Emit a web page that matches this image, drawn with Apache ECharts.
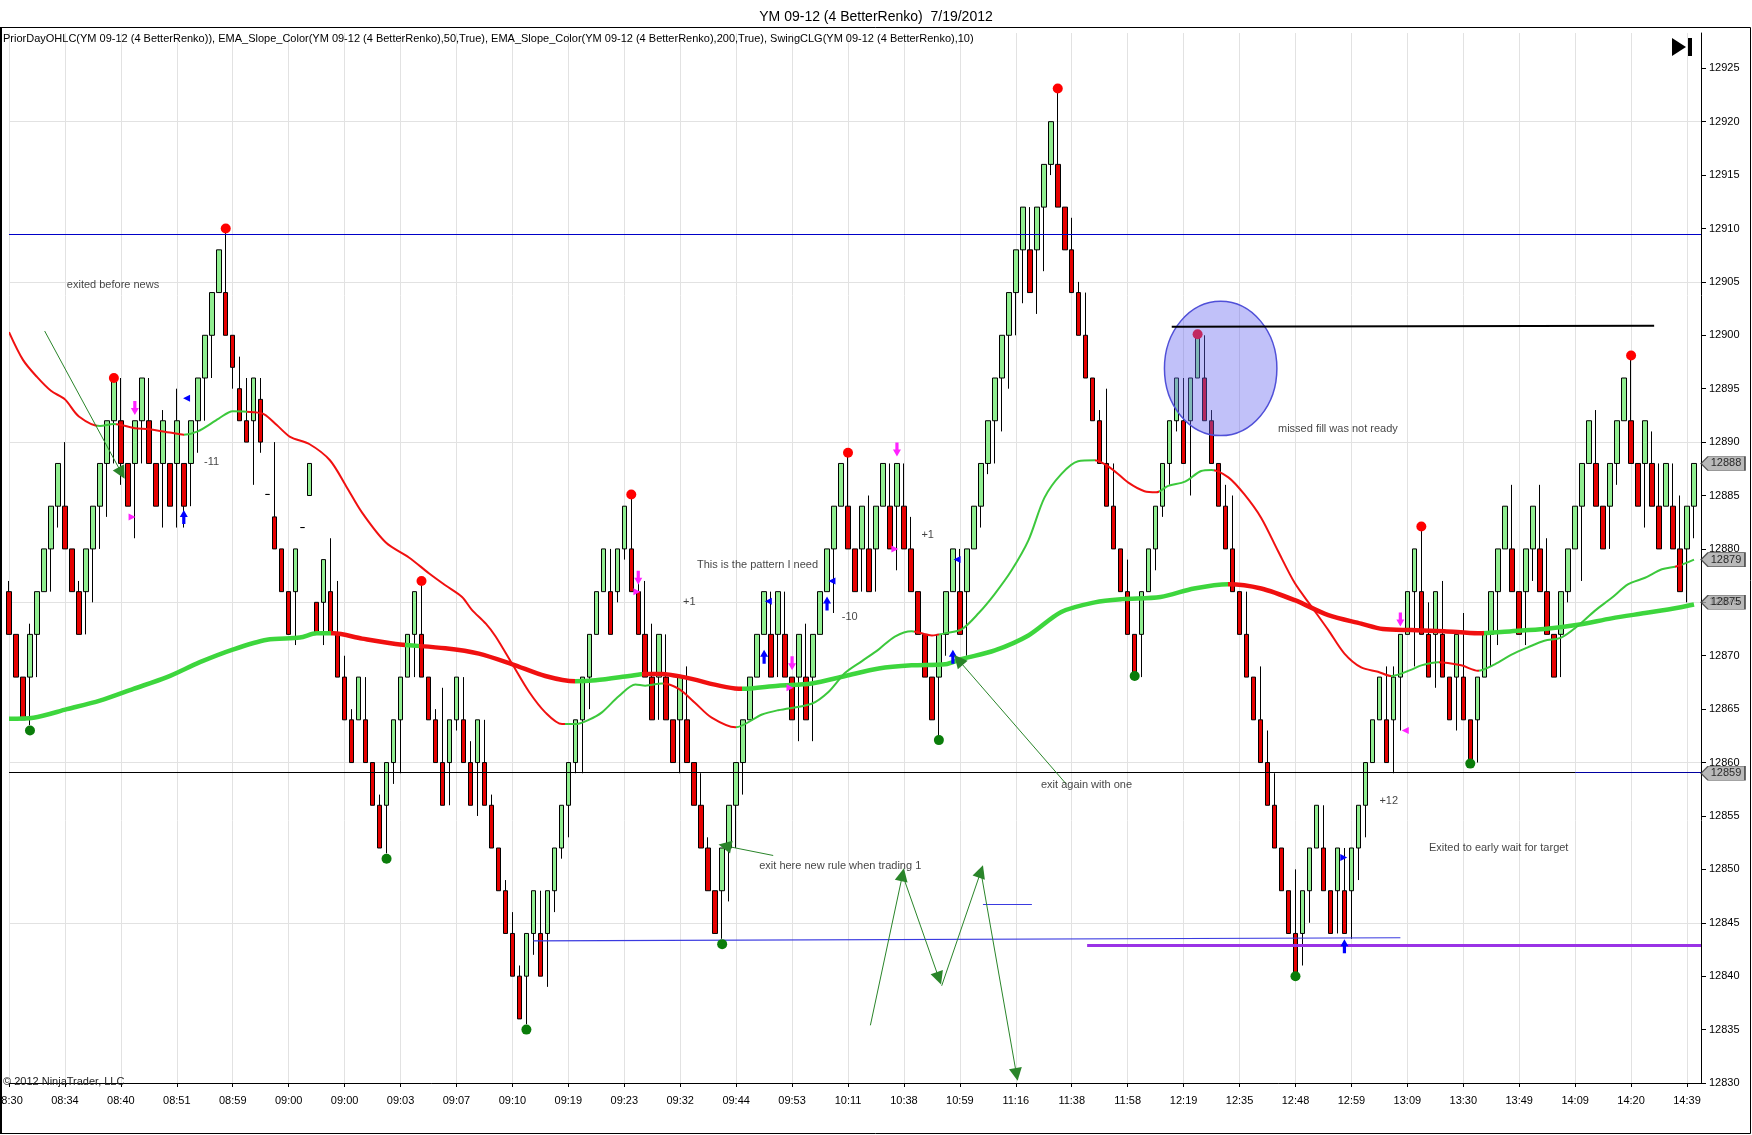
<!DOCTYPE html>
<html><head><meta charset="utf-8">
<script src="https://cdn.jsdelivr.net/npm/echarts@6/dist/echarts.min.js"></script>
<style>html,body{margin:0;padding:0;background:#fff}#c{width:1752px;height:1135px}</style>
</head><body><div id="c"></div>
<script>
// ---------------- data ----------------
const titleText = 'YM 09-12 (4 BetterRenko)  7/19/2012';
const indicatorText = 'PriorDayOHLC(YM 09-12 (4 BetterRenko)), EMA_Slope_Color(YM 09-12 (4 BetterRenko),50,True), EMA_Slope_Color(YM 09-12 (4 BetterRenko),200,True), SwingCLG(YM 09-12 (4 BetterRenko),10)';
const copyrightText = '\u00a9 2012 NinjaTrader, LLC';
const timeLabels = ['08:30','08:34','08:40','08:51','08:59','09:00','09:00','09:03','09:07','09:10','09:19','09:23','09:32','09:44','09:53','10:11','10:38','10:59','11:16','11:38','11:58','12:19','12:35','12:48','12:59','13:09','13:30','13:49','14:09','14:20','14:39'];
const barsPerLabel = 8;
const slotCount = 243;
// [open, close, low, high]
const bars = [
[12876,12872,12872,12877],[12872,12868,12868,12872],[12868,12864,12864,12868],[12868,12872,12863.5,12873],[12872,12876,12868,12876],
[12876,12880,12876,12880],[12880,12884,12876,12884],[12884,12888,12882,12888],[12884,12880,12880,12890],[12880,12876,12876,12880],
[12876,12872,12872,12877],[12876,12880,12872,12880],[12880,12884,12875,12884],[12884,12888,12880,12888],[12888,12892,12883,12892],
[12892,12896,12888,12896],[12892,12888,12886,12896],[12888,12884,12884,12888],[12888,12892,12881,12892],[12892,12896,12888,12896],
[12892,12888,12888,12896],[12888,12884,12884,12888],[12888,12892,12882,12893],[12888,12884,12884,12888],[12888,12892,12882,12895],
[12888,12884,12882,12888],[12888,12892,12884,12892],[12892,12896,12889,12896],[12896,12900,12892,12900],[12900,12904,12896,12904],
[12904,12908,12904,12908],[12904,12900,12900,12910],[12900,12897,12895,12900],[12895,12892,12892,12898],[12892,12890,12890,12896],
[12892,12896,12886,12896],[12894,12890,12889,12896],[12885.1,12885.1,12885.1,12885.1],[12883,12880,12880,12890],[12880,12876,12876,12880],
[12876,12872,12872,12876],[12876,12880,12871,12880],[12882,12882,12882,12882],[12885,12888,12885,12888],[12875,12872,12872,12875],
[12875,12879,12871,12879],[12876,12872,12872,12881],[12872,12868,12868,12877],[12868,12864,12864,12870],[12864,12860,12860,12865],
[12864,12868,12864,12868],[12864,12860,12860,12868],[12860,12856,12856,12860],[12856,12852,12852,12857],[12856,12860,12851.5,12860],
[12860,12864,12858,12864],[12864,12868,12859,12868],[12868,12872,12868,12872],[12872,12876,12868,12876],[12872,12868,12868,12877],
[12868,12864,12864,12868],[12864,12860,12860,12865],[12860,12856,12856,12867],[12860,12864,12856,12864],[12864,12868,12863,12868],
[12864,12860,12860,12868],[12860,12856,12856,12862],[12860,12864,12855,12864],[12860,12856,12856,12864],[12856,12852,12852,12857],
[12852,12848,12848,12852],[12848,12844,12844,12849],[12844,12840,12840,12846],[12840,12836,12836,12841],[12840,12844,12835.5,12844],
[12844,12848,12842,12848],[12844,12840,12840,12848],[12844,12848,12839,12848],[12848,12852,12846,12852],[12852,12856,12851,12856],
[12856,12860,12853,12860],[12860,12864,12859,12864],[12864,12868,12859,12868],[12868,12872,12865,12872],[12872,12876,12872,12876],
[12876,12880,12876,12880],[12876,12872,12872,12880],[12876,12880,12875,12880],[12880,12884,12879,12884],[12880,12876,12876,12885],
[12876,12872,12872,12877],[12872,12868,12868,12877],[12868,12864,12864,12873],[12868,12872,12864,12872],[12868,12864,12864,12872],
[12864,12860,12860,12864],[12864,12868,12859,12868],[12864,12860,12860,12869],[12860,12856,12856,12860],[12856,12852,12852,12859],
[12852,12848,12848,12853],[12848,12844,12844,12848],[12848,12852,12843.5,12852],[12852,12856,12847,12856],[12856,12860,12852,12860],
[12860,12864,12857,12864],[12864,12868,12864,12868],[12868,12872,12868,12872],[12872,12876,12872,12876],[12872,12868,12868,12876],
[12872,12876,12868,12876],[12872,12868,12868,12876],[12868,12864,12864,12868],[12868,12872,12862,12872],[12868,12864,12864,12873],
[12868,12872,12862,12872],[12872,12876,12872,12876],[12876,12880,12876,12880],[12880,12884,12874,12884],[12884,12888,12884,12888],
[12884,12880,12880,12889],[12880,12876,12876,12880],[12880,12884,12876,12884],[12880,12876,12876,12885],[12880,12884,12876,12884],
[12884,12888,12884,12888],[12884,12880,12880,12888],[12884,12888,12878,12888],[12884,12880,12880,12888],[12880,12876,12876,12883],
[12876,12872,12872,12876],[12872,12868,12868,12872],[12868,12864,12864,12868],[12868,12872,12862.3,12872],[12872,12876,12870,12876],
[12876,12880,12876,12880],[12876,12872,12872,12880],[12876,12880,12870,12880],[12880,12884,12880,12884],[12884,12888,12882,12888],
[12888,12892,12887,12892],[12892,12896,12888,12896],[12896,12900,12891,12900],[12900,12904,12895,12904],[12904,12908,12900,12908],
[12908,12912,12903,12912],[12908,12904,12904,12912],[12908,12912,12902,12912],[12912,12916,12906,12916],[12916,12920,12915,12920],
[12916,12912,12912,12923.1],[12912,12908,12908,12912],[12908,12904,12904,12911],[12904,12900,12900,12905],[12900,12896,12896,12904],
[12896,12892,12892,12896],[12892,12888,12888,12893],[12888,12884,12884,12895],[12884,12880,12880,12888],[12880,12876,12876,12880],
[12876,12872,12872,12879],[12872,12868,12868,12872],[12872,12876,12868,12876],[12876,12880,12876,12880],[12880,12884,12878,12884],
[12884,12888,12883,12888],[12888,12892,12886,12892],[12892,12896,12891,12896],[12892,12888,12888,12896],[12892,12896,12885,12896],
[12896,12900,12896,12900],[12896,12892,12892,12900],[12892,12888,12888,12893],[12888,12884,12884,12888],[12884,12880,12880,12886],
[12880,12876,12876,12885],[12876,12872,12872,12876],[12872,12868,12868,12876],[12868,12864,12864,12868],[12864,12860,12860,12869],
[12860,12856,12856,12863],[12856,12852,12852,12859],[12852,12848,12848,12852],[12848,12844,12844,12848],[12844,12840,12840,12850],
[12844,12848,12841,12848],[12848,12852,12845,12852],[12852,12856,12852,12856],[12852,12848,12848,12856],[12848,12844,12844,12848],
[12848,12852,12844,12852],[12848,12844,12844,12852],[12848,12852,12843.5,12852],[12852,12856,12849,12856],[12856,12860,12853,12860],
[12860,12864,12860,12864],[12864,12868,12864,12868],[12864,12860,12860,12869],[12864,12868,12859,12869],[12868,12872,12863,12872],
[12872,12876,12872,12876],[12876,12880,12869,12880],[12876,12872,12872,12882],[12872,12868,12868,12875],[12872,12876,12867,12876],
[12872,12868,12868,12877],[12868,12864,12864,12868],[12868,12872,12863,12872],[12868,12864,12864,12874],[12864,12860,12860,12864],
[12864,12868,12860,12868],[12868,12872,12868,12872],[12872,12876,12869,12876],[12876,12880,12871,12880],[12880,12884,12880,12884],
[12880,12876,12876,12886],[12876,12872,12872,12876],[12876,12880,12871,12880],[12880,12884,12877,12884],[12880,12876,12876,12886],
[12876,12872,12872,12881],[12872,12868,12868,12872],[12872,12876,12868,12876],[12876,12880,12875,12880],[12880,12884,12880,12884],
[12884,12888,12877,12888],[12888,12892,12888,12892],[12888,12884,12884,12893],[12884,12880,12880,12884],[12884,12888,12880,12888],
[12888,12892,12886,12892],[12892,12896,12892,12896],[12892,12888,12888,12898],[12888,12884,12884,12888],[12888,12892,12882,12892],
[12888,12884,12884,12891],[12884,12880,12880,12888],[12884,12888,12884,12888],[12884,12880,12880,12888],[12880,12876,12876,12885],
[12880,12884,12875,12884],[12884,12888,12881,12888]
];
// EMA 50 (thin) and EMA 200 (thick): [bar, value]
const ema50 = [[0,12900.3],[2,12897.7],[4,12896.1],[6,12894.8],[8,12894.0],[10,12892.4],[13,12891.5],[15,12891.7],[18,12891.3],[20,12891.2],[23,12890.9],[25,12890.7],[27,12891.0],[30,12892.2],[32,12892.9],[35,12892.8],[36.5,12892.6],[38.3,12891.6],[40.2,12890.5],[43,12889.8],[45.9,12888.3],[48.2,12885.9],[50.5,12883.4],[53.9,12880.6],[57.2,12879.2],[60.1,12877.7],[62.4,12876.6],[64.8,12875.5],[66.2,12874.3],[68.2,12873.0],[69.6,12871.8],[72,12869.2],[74.4,12866.6],[76.7,12864.7],[79.1,12863.6],[81,12863.6],[82.9,12864.0],[84.8,12864.7],[87.2,12866.2],[89.6,12867.3],[91,12867.2],[93.4,12867.4],[95.8,12866.9],[98.1,12865.6],[100.5,12864.2],[103.9,12863.3],[107.7,12864.5],[110,12864.9],[114.8,12865.5],[117.2,12866.6],[119.6,12868.4],[122,12869.5],[124.4,12870.6],[126.7,12871.8],[129.1,12872.3],[132,12871.9],[133.9,12872.1],[136.3,12872.5],[138.7,12874.0],[141,12875.8],[143.4,12878.0],[145.8,12880.8],[148.1,12884.8],[150.5,12887.0],[152.9,12888.2],[155.3,12888.3],[157.7,12887.5],[160.1,12886.2],[162.4,12885.4],[164.1,12885.3],[165.8,12885.9],[168.2,12886.3],[170.5,12887.3],[172,12887.4],[174.4,12886.7],[176.7,12885.1],[179.1,12882.9],[181.5,12879.8],[183.9,12876.8],[186.3,12874.6],[188.7,12872.4],[191,12870.2],[193.4,12868.9],[195.8,12868.5],[197.7,12868.1],[200.6,12868.7],[202,12869.1],[204.4,12869.4],[207.7,12869.1],[210.1,12868.6],[212.5,12869.2],[214.9,12870.1],[217.3,12870.8],[219.6,12871.4],[222,12871.7],[224.4,12872.8],[226.8,12874.2],[229.2,12875.4],[231.6,12876.7],[234,12877.3],[236.4,12878.1],[238.7,12878.4],[241,12879.0]];
const ema200 = [[0,12864.1],[3.5,12864.2],[8.3,12865.0],[13,12865.8],[17.8,12866.9],[22.6,12868.0],[27.3,12869.4],[32.1,12870.6],[36.9,12871.5],[41.6,12871.7],[44,12872.1],[46.4,12872.1],[50.5,12871.6],[55.3,12871.1],[62.4,12870.7],[67.2,12870.2],[72,12869.2],[76.7,12868.1],[81,12867.6],[83.9,12867.7],[88.7,12868.1],[91,12868.3],[93.4,12868.3],[96.5,12868.0],[104.8,12866.9],[110,12867.2],[114.8,12867.4],[119.6,12868.1],[124.4,12868.8],[129.1,12869.1],[133.9,12869.2],[136.3,12869.7],[141,12870.5],[145.8,12871.9],[150.5,12874.1],[155.3,12875.0],[159.2,12875.3],[164.7,12875.5],[169.5,12876.3],[174.4,12876.7],[179.1,12876.3],[183.9,12875.2],[188.7,12873.8],[193.4,12873.0],[196.5,12872.5],[200.6,12872.4],[205.3,12872.3],[210.1,12872.1],[214.9,12872.3],[219.6,12872.5],[224.4,12872.9],[229.2,12873.5],[234,12874.0],[238.7,12874.5],[241,12874.8]];
// slope state segments [fromBar, toBar, state]
const ema50Slope = [[0,12.6,'down'],[12.6,15.3,'up'],[15.3,25,'down'],[25,34,'up'],[34,79.5,'down'],[79.5,93.5,'up'],[93.5,104,'down'],[104,129.5,'up'],[129.5,133,'down'],[133,155.3,'up'],[155.3,164.5,'down'],[164.5,172.3,'up'],[172.3,197.7,'down'],[197.7,204.5,'up'],[204.5,210.3,'down'],[210.3,238.3,'up'],[238.3,239.3,'down'],[239.3,243,'up']];
const ema200Slope = [[0,46,'up'],[46,56.7,'down'],[56.7,58.6,'up'],[58.6,81,'down'],[81,90.6,'up'],[90.6,104.8,'down'],[104.8,174.4,'up'],[174.4,211,'down'],[211,243,'up']];
// swing points [bar, price]
const swingHighs = [[15,12896],[31,12910],[59,12877],[89,12885.1],[120,12889],[150,12923.1],[170,12900.1],[202,12882.1],[232,12898.1]];
const swingLows = [[3,12863],[54,12851],[74,12835],[102,12843],[133,12862.1],[161,12868.1],[184,12840],[209,12859.9]];
// trade signals [bar, price]
const sellArrows = [[18,12893.2],[90,12877.3],[112,12869.3],[127,12889.3],[199,12873.4]];
const buyArrows = [[25,12883],[108,12869.9],[117,12874.9],[135,12869.9],[191,12842.8]];
const sellMarksRight = [[17.6,12883],[89.8,12876],[111.7,12867],[126.7,12880]];
const sellMarksLeft = [[199.7,12863]];
const buyMarksLeft = [[25.4,12894.1],[108.6,12875.1],[117.7,12877],[135.6,12879]];
const buyMarksRight = [[190.9,12851.1]];
// price levels / drawn lines
const priorDayHigh = 12909.5;
const priorDayLow = 12859.1;
const priorDayLowSplit = 224;
const blueTrend = [[75,12843.3],[199,12843.6]];
const blueShort = [[139.3,12846.7],[146.3,12846.7]];
const purpleLevel = [[154.2,12842.9],[242,12842.9]];
const blackLevel = [[166.3,12900.8],[235.3,12900.9]];
const arrowNotes = [
  [[5.1,12900.4],[16.1,12887.1]],
  [[109.3,12851.3],[102.4,12852.2]],
  [[151.2,12858.0],[135.8,12869.6]],
  [[123.2,12835.4],[127.8,12849.5]],
  [[127.8,12849.5],[133.0,12839.8]],
  [[133.4,12839.1],[139.0,12849.8]],
  [[139.0,12849.8],[144.1,12830.8]]
];
const highlightEllipse = [173.3, 12896.9, 8.04, 6.29]; // centre bar, centre price, half-width (bars), half-height (points)
const notes = [
  [8.27,12904.7,'exited before news'],
  [27.9,12888.1,'-11'],
  [98.4,12878.5,'This is the pattern I need'],
  [96.4,12875.0,'+1'],
  [119.1,12873.6,'-10'],
  [130.5,12881.3,'+1'],
  [107.3,12850.3,'exit here new rule when trading 1'],
  [147.6,12857.9,'exit again with one'],
  [181.5,12891.2,'missed fill was not ready'],
  [196.0,12856.4,'+12'],
  [203.1,12852.0,'Exited to early wait for target']
];
const priceFlags = [12888, 12879, 12875, 12859];
const yMin = 12830, yMax = 12928.3;

// ---------------- chart ----------------
const FONT = 'Liberation Sans, Arial, sans-serif';
const RED = '#f01010', GREEN_THIN = '#3cc83c', GREEN_THICK = '#3dd63d';
const categories = Array.from({length: slotCount}, (_, i) => String(i));
const labelEvery = (idx) => idx % barsPerLabel === 0;

const downArrow = 'path://M3,0 L7,0 L7,7 L10,7 L5,14 L0,7 L3,7 Z';
const upArrow = 'path://M5,0 L10,7 L7,7 L7,14 L3,14 L3,7 L0,7 Z';
const flagPath = 'path://M0,7 L7,0 L44,0 L44,14 L7,14 Z';

function seg(coords, color, width, z) {
  return {type:'lines', coordinateSystem:'cartesian2d', xAxisIndex:1, yAxisIndex:0, z: z || 4, silent:true,
    symbol:['none','none'], lineStyle:{color, width, opacity:1}, data:[{coords}]};
}
function markers(data, symbol, color, size, rotate) {
  return {type:'scatter', xAxisIndex:1, yAxisIndex:0, data, symbol, symbolSize:size, symbolRotate: rotate || 0,
    itemStyle:{color, opacity:1}, z:6, silent:true, clip:false};
}

const series = [
  {type:'candlestick', name:'bars', xAxisIndex:0, yAxisIndex:0, data: bars, barWidth: 5, z:2,
    itemStyle:{color:'#90ee90', color0:'#e60000', borderColor:'#000', borderColor0:'#000', borderWidth:1}},
  seg([[0,priorDayHigh],[242,priorDayHigh]], '#0000c8', 1, 3),
  seg([[0,priorDayLow],[priorDayLowSplit,priorDayLow]], '#000', 1, 3),
  seg([[priorDayLowSplit,priorDayLow],[242,priorDayLow]], '#0000a0', 1, 3),
  seg(blueTrend, '#3a3ae0', 1.2, 3),
  seg(blueShort, '#3a3ae0', 1.2, 3),
  seg(purpleLevel, '#9a32e6', 3, 3),
  {type:'line', name:'ema200', xAxisIndex:1, yAxisIndex:0, data: ema200, smooth:0.3, symbol:'none', lineStyle:{width:4.5}, z:4, silent:true},
  {type:'line', name:'ema50', xAxisIndex:1, yAxisIndex:0, data: ema50, smooth:0.3, symbol:'none', lineStyle:{width:2}, z:4, silent:true},
  {type:'custom', xAxisIndex:1, yAxisIndex:0, data:[highlightEllipse], z:7, silent:true, clip:false,
    renderItem:(params, api) => {
      const c = api.coord([api.value(0), api.value(1)]);
      const s = api.size([api.value(2), api.value(3)]);
      return {type:'ellipse', shape:{cx:c[0], cy:c[1], rx:s[0], ry:s[1]},
        style:{fill:'rgba(100,100,240,0.4)', stroke:'#5050d8', lineWidth:1.5}};
    }},
  seg(blackLevel, '#000', 2, 8),
  markers(swingHighs, 'circle', '#ff0000', 10),
  markers(swingLows, 'circle', '#0a7d0a', 10),
  markers(sellArrows, downArrow, '#ff22ff', [8,14]),
  markers(buyArrows, upArrow, '#0000ff', [8,14]),
  markers(sellMarksRight, 'triangle', '#ff22ff', 7, -90),
  markers(sellMarksLeft, 'triangle', '#ff22ff', 7, 90),
  markers(buyMarksLeft, 'triangle', '#0000ff', 7, 90),
  markers(buyMarksRight, 'triangle', '#0000ff', 7, -90),
  {type:'lines', coordinateSystem:'cartesian2d', xAxisIndex:1, yAxisIndex:0, z:8, silent:true, clip:false,
    symbol:['none','triangle'], symbolSize:[0,13], lineStyle:{color:'#2a852a', width:1, opacity:1},
    data: arrowNotes.map(c => ({coords:c}))},
  {type:'scatter', xAxisIndex:1, yAxisIndex:0, symbolSize:0, z:9, silent:true, clip:false,
    data: notes.map(n => ({name:n[2], value:[n[0], n[1]]})),
    label:{show:true, position:'right', distance:0, formatter:'{b}', color:'#111', fontSize:11, fontFamily:FONT}},
  {type:'scatter', xAxisIndex:1, yAxisIndex:0, z:10, silent:true, clip:false,
    data: priceFlags.map(v => [242, v]), symbol: flagPath, symbolSize:[44,14], symbolOffset:[22,0],
    itemStyle:{color:'#a8a8a8', borderColor:'#333', borderWidth:1},
    label:{show:true, position:'inside', offset:[3,0], formatter:p => String(p.value[1]), color:'#000', fontSize:11, fontFamily:FONT}}
];
const ema200Index = series.findIndex(s => s.name === 'ema200');
const ema50Index = series.findIndex(s => s.name === 'ema50');
const slopeColor = (st, thick) => st === 'down' ? RED : (thick ? GREEN_THICK : GREEN_THIN);

const option = {
  animation:false,
  backgroundColor:'#fff',
  textStyle:{fontFamily:FONT},
  title:{text:titleText, left:'center', top:5, textStyle:{fontSize:14, fontWeight:'normal', color:'#000', fontFamily:FONT}},
  grid:{left:9, right:51, top:33, bottom:52, containLabel:false, outerBoundsMode:'none'},
  xAxis:[
    {type:'category', data:categories, boundaryGap:false,
      axisLine:{show:true, onZero:false, lineStyle:{color:'#000'}},
      axisTick:{show:true, interval:(i)=>labelEvery(i), length:4, lineStyle:{color:'#000'}},
      axisLabel:{interval:(i)=>labelEvery(i), formatter:(v, i)=> labelEvery(i) ? (timeLabels[i / barsPerLabel] || '') : '',
        color:'#000', fontSize:11, margin:12, fontFamily:FONT, hideOverlap:false},
      splitLine:{show:true, interval:(i)=>labelEvery(i), lineStyle:{color:'#e2e2e2', width:1}}},
    {type:'value', min:0, max:slotCount-1, show:false, axisLine:{show:false, onZero:false}, axisTick:{show:false}, axisLabel:{show:false}, splitLine:{show:false}}
  ],
  yAxis:[
    {type:'value', position:'right', min:yMin, max:yMax, interval:5, scale:true,
      axisLine:{show:true, onZero:false, lineStyle:{color:'#000'}},
      axisTick:{show:true, length:5, lineStyle:{color:'#000'}},
      axisLabel:{color:'#000', fontSize:11, margin:8, showMaxLabel:false, fontFamily:FONT, formatter:(v)=>String(v)},
      splitLine:{show:false}},
    {type:'value', position:'right', min:yMin, max:yMax, interval:15, scale:true,
      axisLine:{show:false, onZero:false}, axisTick:{show:false}, axisLabel:{show:false},
      splitLine:{show:true, showMaxLine:false, lineStyle:{color:'#e2e2e2', width:1}}}
  ],
  visualMap:[
    {show:false, type:'piecewise', seriesIndex:ema50Index, dimension:0,
      pieces: ema50Slope.map(([a,b,st]) => ({gte:a, lt:b, color:slopeColor(st,false)}))},
    {show:false, type:'piecewise', seriesIndex:ema200Index, dimension:0,
      pieces: ema200Slope.map(([a,b,st]) => ({gte:a, lt:b, color:slopeColor(st,true)}))}
  ],
  graphic:[
    {type:'rect', silent:true, z:100, shape:{x:0.5, y:27.5, width:1750, height:1106}, style:{fill:'none', stroke:'#000', lineWidth:1}},
    {type:'line', silent:true, z:100, shape:{x1:1, y1:27, x2:1, y2:1134}, style:{stroke:'#000', lineWidth:2}},
    {type:'text', silent:true, z:100, left:3, top:33, style:{text:indicatorText, fill:'#000', font:'11px ' + FONT}},
    {type:'text', silent:true, z:100, left:3, top:1076, style:{text:copyrightText, fill:'#222', font:'11px ' + FONT}},
    {type:'polygon', silent:true, z:100, shape:{points:[[1672,38],[1686,47],[1672,56]]}, style:{fill:'#000'}},
    {type:'rect', silent:true, z:100, shape:{x:1688, y:38, width:4, height:18}, style:{fill:'#000'}}
  ],
  series
};
const chart = echarts.init(document.getElementById('c'), null, {renderer:'canvas'});
chart.setOption(option);
</script>
</body></html>
